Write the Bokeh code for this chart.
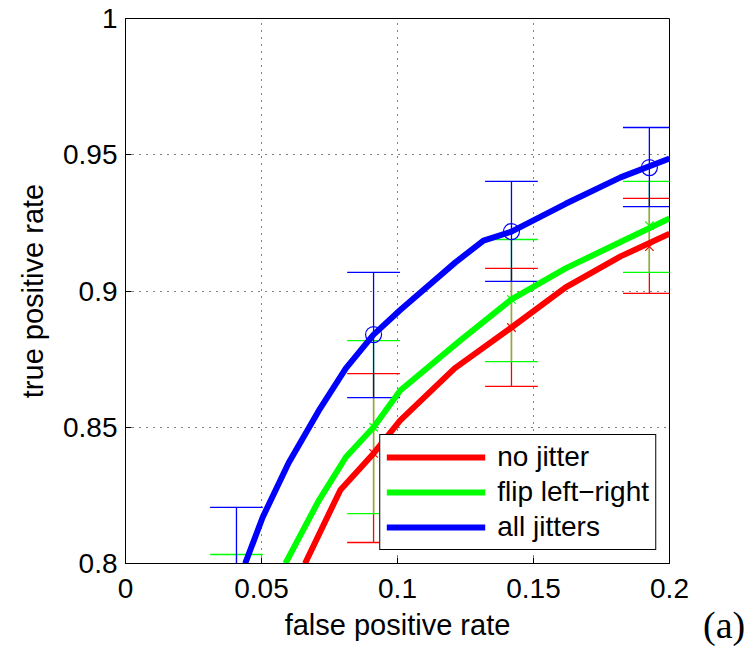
from bokeh.plotting import figure
from bokeh.models import FixedTicker, Legend, LegendItem, Range1d, Div
from bokeh.layouts import row
from bokeh.embed import file_html
from bokeh.resources import INLINE

# ---- data ----
x_ticks = [0, 0.05, 0.1, 0.15, 0.2]
x_tick_labels = ["0", "0.05", "0.1", "0.15", "0.2"]
y_ticks = [0.8, 0.85, 0.9, 0.95, 1.0]
y_tick_labels = ["0.8", "0.85", "0.9", "0.95", "1"]

no_jitter_fpr = [0.066, 0.079, 0.0912, 0.101, 0.121, 0.1419, 0.1618, 0.182, 0.2]
no_jitter_tpr = [0.8, 0.827, 0.8404, 0.8525, 0.8716, 0.8866, 0.9013, 0.9127, 0.921]
flip_fpr = [0.0588, 0.071, 0.081, 0.0912, 0.101, 0.123, 0.1419, 0.1618, 0.182, 0.2]
flip_tpr = [0.8, 0.823, 0.839, 0.850, 0.8635, 0.8818, 0.8969, 0.9083, 0.918, 0.9266]
all_fpr = [0.044, 0.0504, 0.060, 0.071, 0.081, 0.0912, 0.101, 0.1213, 0.1316, 0.1419, 0.1618, 0.182, 0.2]
all_tpr = [0.8, 0.8169, 0.837, 0.856, 0.8716, 0.884, 0.893, 0.9105, 0.9185, 0.9218, 0.932, 0.9417, 0.9486]

err_fpr = [0.0408, 0.0912, 0.1419, 0.1926]
no_jitter_mean = [0.76, 0.8404, 0.8866, 0.9163]
no_jitter_lo = [0.72, 0.8077, 0.8650, 0.8991]
no_jitter_hi = [0.79, 0.8697, 0.9083, 0.934]
flip_mean = [0.776, 0.850, 0.8969, 0.924]
flip_lo = [0.749, 0.8183, 0.8741, 0.9068]
flip_hi = [0.8033, 0.8818, 0.9189, 0.9402]
all_mean = [0.797, 0.884, 0.9218, 0.9453]
all_lo = [0.773, 0.8609, 0.9035, 0.931]
all_hi = [0.8206, 0.9068, 0.9402, 0.960]
cap_half = 0.0097

panel_tag = "(a)"

RED, GREEN, BLUE = "#ff0000", "#00ff00", "#0000ff"
FONT = "Liberation Sans"
FS = "28px"

p = figure(width=700, height=654, output_backend="svg", toolbar_location=None,
           x_range=Range1d(0, 0.2), y_range=Range1d(0.8, 1.0),
           min_border_left=125, min_border_right=31, min_border_top=18, min_border_bottom=91)
p.background_fill_color = "white"
p.border_fill_color = "white"
p.outline_line_color = "black"
p.outline_line_width = 1
p.outline_line_alpha = 1

for ax in (p.xaxis[0], p.yaxis[0]):
    ax.major_label_text_font = FONT
    ax.major_label_text_font_size = FS
    ax.major_label_text_color = "black"
    ax.axis_label_text_font = FONT
    ax.axis_label_text_font_size = "29px"
    ax.axis_label_text_font_style = "normal"
    ax.axis_label_text_color = "black"
    ax.major_tick_in = 6
    ax.major_tick_out = 0
    ax.minor_tick_in = 0
    ax.minor_tick_out = 0
    ax.axis_line_color = "black"
    ax.major_tick_line_color = "black"

p.xaxis.major_label_standoff = 15
p.yaxis.major_label_standoff = 8
p.xaxis.ticker = FixedTicker(ticks=x_ticks)
p.yaxis.ticker = FixedTicker(ticks=y_ticks)
p.xaxis.major_label_overrides = {t: l for t, l in zip(x_ticks, x_tick_labels)}
p.yaxis.major_label_overrides = {t: l for t, l in zip(y_ticks, y_tick_labels)}
p.xaxis.axis_label = "false positive rate"
p.yaxis.axis_label = "true positive rate"
p.xaxis.axis_label_standoff = 8
p.yaxis.axis_label_standoff = 11

for g in (p.xgrid[0], p.ygrid[0]):
    g.grid_line_color = "black"
    g.grid_line_dash = "1 6"
    g.grid_line_width = 1
    g.grid_line_alpha = 1

# error bars
for mean, lo, hi, col in ((no_jitter_mean, no_jitter_lo, no_jitter_hi, RED),
                          (flip_mean, flip_lo, flip_hi, GREEN),
                          (all_mean, all_lo, all_hi, BLUE)):
    p.segment(x0=err_fpr, y0=lo, x1=err_fpr, y1=hi, line_color=col, line_width=1.3)
    p.segment(x0=[x - cap_half for x in err_fpr], y0=lo,
              x1=[x + cap_half for x in err_fpr], y1=lo, line_color=col, line_width=1.3)
    p.segment(x0=[x - cap_half for x in err_fpr], y0=hi,
              x1=[x + cap_half for x in err_fpr], y1=hi, line_color=col, line_width=1.3)

# curves
r_red = p.line(no_jitter_fpr, no_jitter_tpr, line_color=RED, line_width=6)
r_green = p.line(flip_fpr, flip_tpr, line_color=GREEN, line_width=6)
r_blue = p.line(all_fpr, all_tpr, line_color=BLUE, line_width=6)

# markers
p.scatter(err_fpr, no_jitter_mean, marker="x", size=12, line_color=RED, line_width=1.2)
p.scatter(err_fpr, flip_mean, marker="x", size=12, line_color=GREEN, line_width=1.2)
p.scatter(err_fpr, all_mean, marker="circle", size=16, fill_color=None,
          line_color=BLUE, line_width=1.2)

legend = Legend(items=[LegendItem(label="no jitter", renderers=[r_red]),
                       LegendItem(label="flip left\u2212right", renderers=[r_green]),
                       LegendItem(label="all jitters", renderers=[r_blue])],
                location="bottom_right")
legend.label_text_font = FONT
legend.label_text_font_size = FS
legend.label_text_color = "black"
legend.glyph_width = 99
legend.glyph_height = 20
legend.label_height = 20
legend.label_standoff = 12
legend.spacing = 3
legend.padding = 6
legend.margin = 13
legend.border_line_color = "black"
legend.border_line_width = 1
legend.border_line_alpha = 1
legend.background_fill_color = "white"
legend.background_fill_alpha = 1
p.add_layout(legend, "center")

# the "(a)" panel tag to the right of the x-axis label
tag = Div(text=("<div style='padding-top:603px; padding-left:3px; "
                "font-family:\"Liberation Serif\"; font-size:38px; line-height:normal; "
                "color:black; white-space:nowrap'>" + panel_tag + "</div>"),
          width=54, height=654, margin=(0, 0, 0, 0))

layout = row(p, tag, spacing=0)
open("out.html", "w").write(file_html(layout, INLINE))
